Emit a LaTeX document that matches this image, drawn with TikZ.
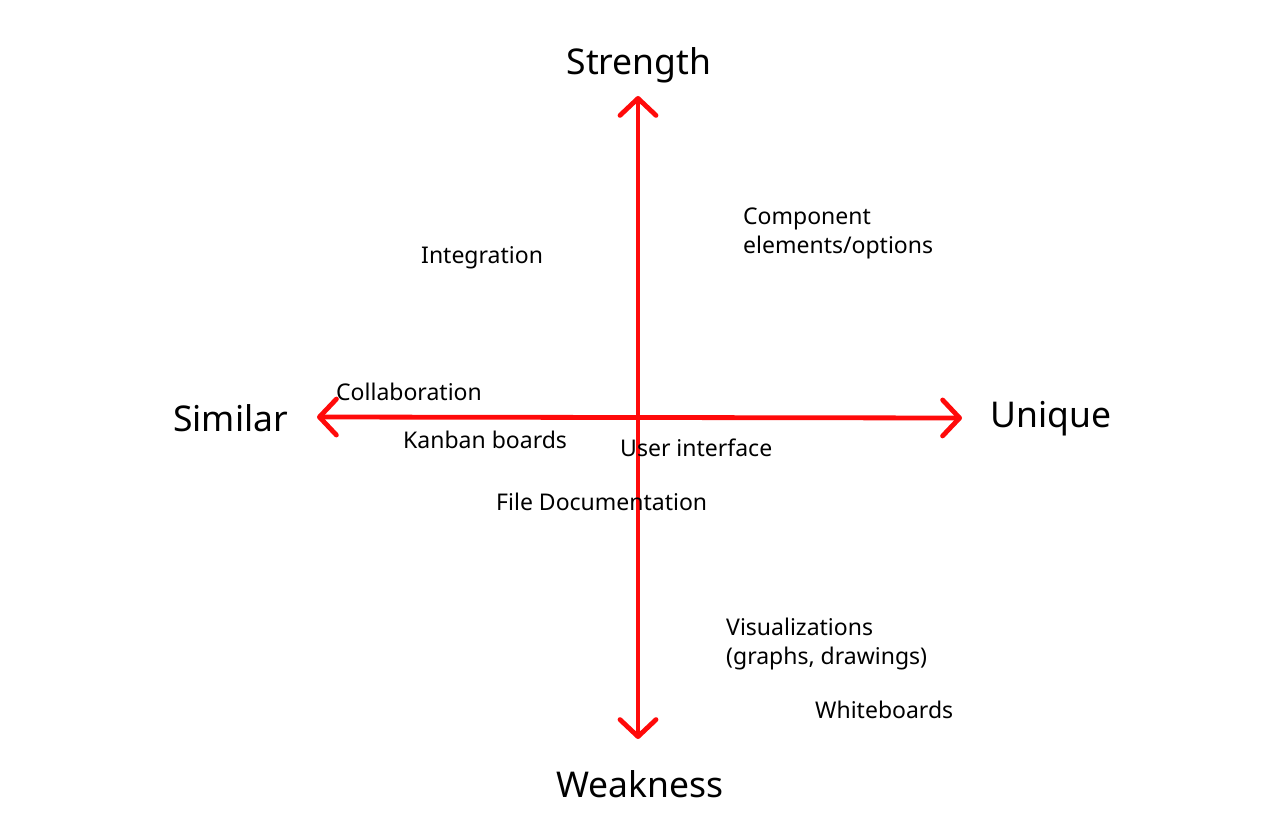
\documentclass[tikz,border=0pt]{standalone}
\usepackage{fontspec}
\setmainfont{Noto Sans}
\usetikzlibrary{arrows.meta}
\definecolor{axisred}{RGB}{255,10,10}
\tikzset{
  axis/.style={draw=axisred, line width=4.8pt, line cap=round,
    {Straight Barb[length=17pt,width=36pt,round]}-{Straight Barb[length=17pt,width=36pt,round]}},
  pole/.style={font=\fontsize{35.5}{42}\selectfont, inner sep=0pt},
  item/.style={font=\fontsize{23}{29}\selectfont, inner sep=0pt, anchor=west, align=left},
}
\begin{document}
\begin{tikzpicture}[x=1pt,y=-1pt]
  \useasboundingbox[fill=white] (0,0) rectangle (1280,832);

  % axis end points
  \coordinate (top) at (638,96);
  \coordinate (bottom) at (638,739);
  \coordinate (left) at (317,417);
  \coordinate (right) at (962,418);

  \draw[axis] (bottom) -- (top);
  \draw[axis] (left) -- (right);

  % pole labels
  \node[pole] (strength) at (639,65) {Strength};
  \node[pole] (weakness) at (640,784) {Weakness};
  \node[pole, anchor=west] (similar) at (173,418) {Similar};
  \node[pole, anchor=west] (unique) at (990,419) {Unique};

  % feature labels
  \node[item] (component) at (743,233) {Component\\elements/options};
  \node[item] (integration) at (421,258) {Integration};
  \node[item] (collab) at (336,392) {Collaboration};
  \node[item] (kanban) at (403,440) {Kanban boards};
  \node[item] (ui) at (620,448) {User interface};
  \node[item] (filedoc) at (496,502) {File Documentation};
  \node[item] (visual) at (726,644) {Visualizations\\(graphs, drawings)};
  \node[item] (white) at (815,710) {Whiteboards};
\end{tikzpicture}
\end{document}
